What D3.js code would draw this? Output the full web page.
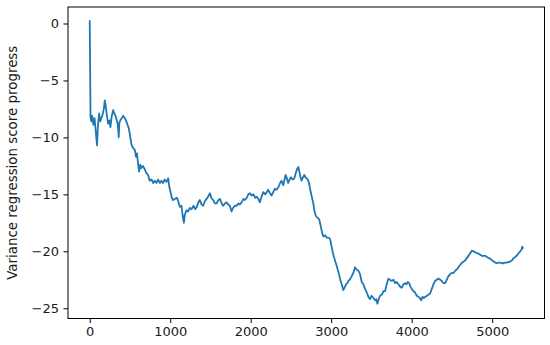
<!DOCTYPE html>
<html>
<head>
<meta charset="utf-8">
<script src="https://cdn.jsdelivr.net/npm/d3@7"></script>
<style>
  html, body { margin: 0; padding: 0; background: #fff; }
  svg { display: block; }
  text { font-family: "DejaVu Sans", sans-serif; }
</style>
</head>
<body>
<script>
// ---- Data ----
const steps = [0,10,20,30,45,60,75,91,100,116,130,145,160,175,187,198,210,228,245,257,272,290,305,320,332,350,360,368,380,400,415,435,456,470,485,500,518,535,560,575,588,600,614,628,643,660,684,700,725,745,767,790,810,830,850,871,890,910,930,953,975,990,1005,1016,1033,1057,1082,1100,1120,1140,1155,1170,1181,1202,1220,1244,1264,1290,1310,1330,1350,1368,1390,1409,1430,1451,1470,1493,1510,1534,1555,1576,1600,1617,1640,1658,1680,1700,1720,1741,1762,1780,1803,1825,1845,1865,1886,1910,1928,1950,1970,1990,2010,2035,2055,2073,2095,2114,2135,2156,2180,2200,2218,2240,2259,2280,2300,2320,2342,2365,2383,2404,2420,2434,2450,2466,2483,2500,2520,2541,2558,2575,2591,2605,2615,2632,2650,2666,2680,2695,2710,2724,2737,2749,2765,2778,2790,2805,2820,2840,2855,2873,2888,2902,2925,2944,2965,2985,3000,3014,3030,3047,3065,3089,3110,3130,3150,3165,3185,3200,3213,3230,3254,3275,3296,3315,3337,3358,3379,3400,3420,3441,3462,3483,3500,3524,3545,3560,3574,3590,3607,3630,3650,3669,3690,3710,3730,3750,3773,3795,3814,3835,3856,3876,3897,3918,3935,3951,3970,3985,4001,4021,4040,4063,4084,4100,4117,4135,4150,4167,4190,4210,4229,4250,4270,4291,4310,4333,4355,4375,4395,4415,4435,4455,4478,4500,4520,4540,4560,4580,4602,4625,4645,4664,4685,4705,4725,4747,4770,4790,4810,4830,4850,4870,4892,4915,4935,4955,4975,5000,5020,5040,5058,5080,5100,5120,5141,5160,5180,5200,5224,5245,5265,5286,5310,5330,5348,5365,5372,5381];
const scores = [0.2,-8.2,-8.6,-8.1,-8.9,-8.3,-9.5,-10.7,-9.2,-7.9,-8.6,-8.3,-8.0,-7.5,-6.75,-7.2,-7.9,-8.8,-8.5,-9.1,-8.2,-7.6,-7.9,-8.1,-8.4,-8.9,-10.0,-8.7,-8.5,-8.3,-8.1,-8.3,-8.6,-8.9,-9.2,-9.8,-10.6,-10.9,-11.1,-11.7,-11.4,-12.3,-13.0,-12.4,-12.7,-12.5,-12.8,-13.1,-13.3,-13.8,-13.7,-14.0,-13.8,-14.0,-13.7,-14.0,-13.8,-14.0,-13.7,-13.9,-13.6,-14.4,-14.8,-15.2,-15.5,-15.4,-15.3,-15.6,-16.1,-16.0,-16.9,-17.5,-16.8,-16.4,-16.5,-16.2,-16.3,-16.0,-16.3,-16.1,-15.7,-15.5,-15.9,-16.0,-15.6,-15.4,-15.2,-14.9,-15.3,-15.5,-15.8,-15.8,-15.5,-15.4,-15.8,-16.0,-15.8,-15.7,-15.9,-16.0,-16.5,-16.2,-16.0,-16.0,-15.8,-15.9,-15.7,-15.4,-15.5,-15.3,-15.0,-14.9,-15.1,-15.0,-15.3,-15.2,-15.4,-15.7,-15.2,-14.8,-15.0,-14.8,-14.6,-14.9,-15.1,-14.8,-14.5,-14.6,-14.4,-14.0,-13.8,-14.2,-13.7,-13.3,-13.6,-14.0,-13.7,-13.5,-13.7,-13.6,-13.2,-12.8,-12.6,-13.0,-13.4,-13.8,-13.5,-13.3,-13.5,-13.6,-13.7,-14.0,-14.5,-14.9,-15.4,-15.8,-16.4,-16.8,-17.0,-17.1,-17.3,-17.9,-18.4,-18.7,-18.6,-18.8,-18.8,-18.9,-19.4,-19.9,-20.4,-20.8,-21.2,-21.8,-22.4,-22.9,-23.4,-23.2,-22.9,-22.8,-22.6,-22.5,-22.2,-21.9,-21.4,-21.6,-21.7,-22.0,-22.7,-22.9,-23.3,-23.6,-24.0,-24.2,-23.9,-24.1,-24.3,-24.2,-24.6,-24.2,-23.9,-23.8,-23.5,-23.5,-22.9,-22.4,-22.5,-22.6,-22.5,-22.8,-22.7,-22.9,-23.1,-23.2,-22.9,-22.8,-22.9,-22.7,-22.8,-23.1,-23.3,-23.5,-23.6,-23.9,-24.0,-24.1,-24.3,-24.0,-24.1,-24.0,-23.9,-23.8,-23.7,-23.3,-22.9,-22.6,-22.5,-22.4,-22.5,-22.6,-22.8,-22.8,-22.5,-22.2,-22.0,-21.9,-21.9,-21.7,-21.6,-21.4,-21.2,-21.0,-20.9,-20.8,-20.6,-20.4,-20.2,-19.95,-20.0,-20.1,-20.15,-20.2,-20.3,-20.4,-20.4,-20.4,-20.5,-20.6,-20.65,-20.8,-20.9,-21.0,-21.05,-21.0,-21.0,-21.05,-21.05,-21.0,-21.0,-20.95,-20.9,-20.8,-20.6,-20.5,-20.35,-20.15,-20.0,-19.85,-19.6,-19.7];
const xTicks = [0, 1000, 2000, 3000, 4000, 5000];
const yTicks = [0, -5, -10, -15, -20, -25];
const yLabel = "Variance regression score progress";

// ---- Layout ----
const W = 550, H = 345;
const mLeft = 68, mRight = 544.5, mTop = 7, mBottom = 318.5;

const svg = d3.select("body").append("svg")
  .attr("width", W).attr("height", H);
svg.append("rect").attr("width", W).attr("height", H).attr("fill", "#fff");

const x = d3.scaleLinear().domain([-270, 5650]).range([mLeft, mRight]);
const y = d3.scaleLinear().domain([-25.9, 1.45]).range([mBottom, mTop]);

const fmt = d => (d < 0 ? "\u2212" + Math.abs(d) : String(d));

// line
const data = steps.map((s, i) => [s, scores[i]]);
svg.append("path")
  .datum(data)
  .attr("fill", "none")
  .attr("stroke", "#1f77b4")
  .attr("stroke-width", 1.8)
  .attr("stroke-linejoin", "round")
  .attr("stroke-linecap", "square")
  .attr("d", d3.line().x(d => x(d[0])).y(d => y(d[1])));

// axes
const xAxis = d3.axisBottom(x).tickValues(xTicks).tickFormat(fmt).tickSize(4.5).tickPadding(4);
const yAxis = d3.axisLeft(y).tickValues(yTicks).tickFormat(fmt).tickSize(4.5).tickPadding(4.5);

const gx = svg.append("g").attr("transform", `translate(0,${mBottom})`).call(xAxis);
const gy = svg.append("g").attr("transform", `translate(${mLeft},0)`).call(yAxis);
[gx, gy].forEach(g => {
  g.select(".domain").remove();
  g.selectAll("line").attr("stroke", "#000").attr("stroke-width", 1);
  g.selectAll("text").attr("fill", "#1a1a1a").style("font-size", "13px").style("font-family", "'DejaVu Sans', sans-serif");
});

// frame (spines)
svg.append("rect")
  .attr("x", mLeft).attr("y", mTop)
  .attr("width", mRight - mLeft).attr("height", mBottom - mTop)
  .attr("fill", "none").attr("stroke", "#000").attr("stroke-width", 1);

// y label
svg.append("text")
  .attr("transform", `translate(16.5,${(mTop + mBottom) / 2}) rotate(-90)`)
  .attr("text-anchor", "middle")
  .style("font-size", "13.4px")
  .attr("fill", "#1a1a1a")
  .text(yLabel);
</script>
</body>
</html>
